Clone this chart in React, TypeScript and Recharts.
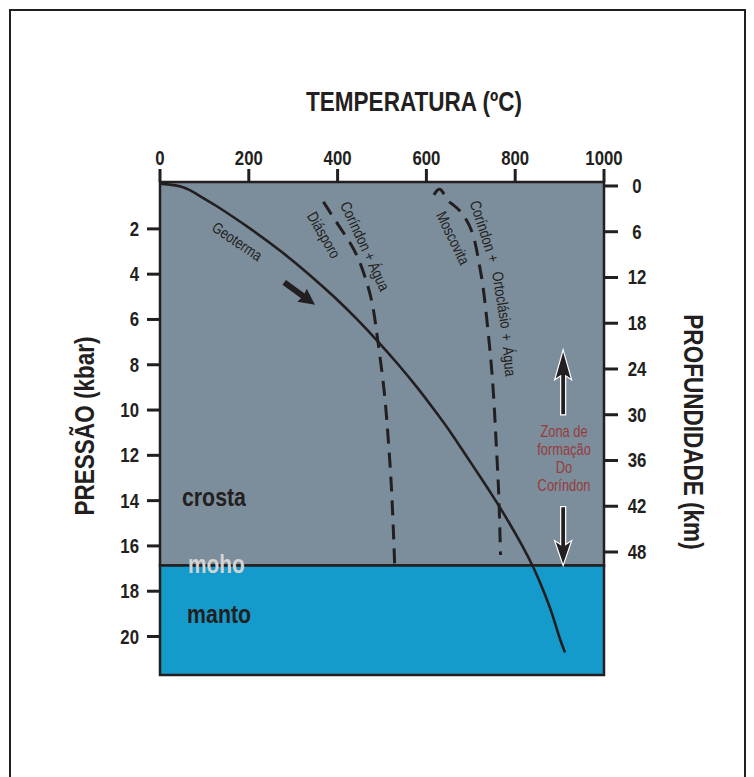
import React from "react";
import {
  LineChart,
  Line,
  XAxis,
  YAxis,
  ReferenceArea,
  ReferenceDot,
  Label,
} from "recharts";

const INK = "#231f20";
const FONT = "'Liberation Sans', Arial, sans-serif";
const CRUST = "#7c8d9b";
const MANTLE = "#149bcb";
const RED = "#963c3c";

// axes
const tempTicks = [0, 200, 400, 600, 800, 1000];
const pressureTicks = [2, 4, 6, 8, 10, 12, 14, 16, 18, 20];
const depthTicks = [0, 6, 12, 18, 24, 30, 36, 42, 48];
const P_TOP = -0.07;
const P_BOTTOM = 21.7;
const KM_TOP = -0.52;
const KM_BOTTOM = 64.13;
const MOHO = 16.87;

// geoterma (T em ºC, P em kbar)
const geoT = [0, 52, 90, 128, 204, 273, 335, 392, 444, 492, 537, 579, 618, 655, 689, 723, 756, 787, 816, 842, 864, 883, 899, 912];
const geoP = [0, 0.16, 0.55, 1, 2, 3, 4, 5, 6, 7, 8, 9, 10, 11, 12, 13, 14, 15, 16, 17, 18, 19, 20, 20.7];

// diásporo = coríndon + água
const diaT = [368, 394, 421, 444, 463, 479, 491, 504, 513, 520, 525, 529];
const diaP = [0.8, 1.6, 2.4, 3.2, 4.2, 5.4, 7, 9, 11, 13, 15, 17.06];

// moscovita = coríndon + ortoclásio + água
const mosT = [617, 631, 646, 661, 683, 705, 718, 727, 735, 742, 748, 753, 757, 761, 764, 767];
const mosP = [0.5, 0.26, 0.68, 0.95, 1.39, 2.27, 3.45, 4.48, 5.8, 7.13, 8.45, 9.92, 11.4, 12.87, 14.34, 16.4];

const toPoints = (ts: number[], ps: number[]) => ts.map((t, i) => ({ t, p: ps[i] }));

const geotherm = toPoints(geoT, geoP);
const diasporo = toPoints(diaT, diaP);
const moscovita = toPoints(mosT, mosP);

type NarrowProps = {
  x: number;
  y: number;
  angle?: number;
  size: number;
  bold?: boolean;
  fill?: string;
  anchor?: "start" | "middle" | "end";
  middle?: boolean;
  children: React.ReactNode;
};

// Arial Narrow look-alike: squeeze Liberation Sans horizontally
function Narrow({ x, y, angle = 0, size, bold = false, fill = INK, anchor = "middle", middle = false, children }: NarrowProps) {
  return (
    <text
      transform={`translate(${x},${y}) rotate(${angle}) scale(0.82,1)`}
      y={middle ? size * 0.35 : 0}
      fontFamily={FONT}
      fontSize={size}
      fontWeight={bold ? 700 : 400}
      fill={fill}
      textAnchor={anchor}
    >
      {children}
    </text>
  );
}

const TopTick = (props: any) => (
  <Narrow x={props.x} y={props.y - 2} size={20.5} bold>
    {props.payload.value}
  </Narrow>
);

const LeftTick = (props: any) => (
  <Narrow x={props.x - 6} y={props.y + 7} size={20.5} bold anchor="end">
    {props.payload.value}
  </Narrow>
);

const RightTick = (props: any) => (
  <Narrow x={props.x + 17} y={props.y + 7} size={20.5} bold>
    {props.payload.value}
  </Narrow>
);

// rótulos ao longo das curvas (centro em T/P, ângulo em graus)
const curveLabels = [
  { t: 174, p: 2.55, angle: 34, text: "Geoterma" },
  { t: 369, p: 2.27, angle: 60, text: "Diásporo" },
  { t: 462, p: 2.76, angle: 65, text: "Coríndon + Água" },
  { t: 660, p: 2.4, angle: 64, text: "Moscovita" },
  { t: 727, p: 1.87, angle: 72, text: "Coríndon" },
  { t: 750, p: 3.3, angle: 78, text: "+" },
  { t: 770, p: 5.14, angle: 81, text: "Ortoclásio" },
  { t: 781, p: 6.78, angle: 84, text: "+" },
  { t: 787, p: 7.86, angle: 85, text: "Água" },
];

const zoneLines = ["Zona de", "formação", "Do", "Coríndon"];

export default function App() {
  return (
    <div style={{ position: "absolute", left: 0, top: 0, width: 754, height: 777, overflow: "hidden", background: "#fff" }}>
      <div
        style={{
          position: "absolute",
          left: 9,
          top: 9,
          width: 737,
          height: 800,
          border: `2px solid ${INK}`,
          boxSizing: "border-box",
        }}
      />
      <div style={{ position: "absolute", left: 0, top: 0 }}>
        <LineChart width={754} height={777} margin={{ top: 152, right: 90, bottom: 102, left: 100 }}>
          <XAxis
            xAxisId="t"
            dataKey="t"
            type="number"
            orientation="top"
            domain={[0, 1000]}
            ticks={tempTicks}
            interval={0}
            height={30}
            allowDataOverflow
            axisLine={false}
            tickSize={13}
            tickLine={{ stroke: INK, strokeWidth: 3 }}
            tick={<TopTick />}
          >
            <Label content={() => <Narrow x={414} y={111} size={27.5} bold>TEMPERATURA (ºC)</Narrow>} />
          </XAxis>
          <YAxis
            yAxisId="p"
            type="number"
            reversed
            domain={[P_TOP, P_BOTTOM]}
            ticks={pressureTicks}
            interval={0}
            width={60}
            allowDataOverflow
            axisLine={false}
            tickSize={13}
            tickLine={{ stroke: INK, strokeWidth: 3 }}
            tick={<LeftTick />}
          >
            <Label content={() => <Narrow x={94} y={426} angle={-90} size={27.5} bold>PRESSÃO (kbar)</Narrow>} />
          </YAxis>
          <YAxis
            yAxisId="km"
            orientation="right"
            type="number"
            reversed
            domain={[KM_TOP, KM_BOTTOM]}
            ticks={depthTicks}
            interval={0}
            width={60}
            allowDataOverflow
            axisLine={false}
            tickSize={14}
            tickLine={{ stroke: INK, strokeWidth: 3 }}
            tick={<RightTick />}
          >
            <Label content={() => <Narrow x={684} y={432} angle={90} size={27.5} bold>PROFUNDIDADE (km)</Narrow>} />
          </YAxis>

          <ReferenceArea
            xAxisId="t"
            yAxisId="p"
            x1={0}
            x2={1000}
            y1={P_TOP}
            y2={MOHO}
            fill={CRUST}
            fillOpacity={1}
            stroke={INK}
            strokeWidth={2.5}
          />
          <ReferenceArea
            xAxisId="t"
            yAxisId="p"
            x1={0}
            x2={1000}
            y1={MOHO}
            y2={P_BOTTOM}
            fill={MANTLE}
            fillOpacity={1}
            stroke={INK}
            strokeWidth={2.5}
          />

          <Line
            xAxisId="t"
            yAxisId="p"
            data={diasporo}
            dataKey="p"
            type="natural"
            stroke={INK}
            strokeWidth={3}
            strokeDasharray="15 9"
            dot={false}
            isAnimationActive={false}
          />
          <Line
            xAxisId="t"
            yAxisId="p"
            data={moscovita}
            dataKey="p"
            type="natural"
            stroke={INK}
            strokeWidth={3}
            strokeDasharray="15 9"
            dot={false}
            isAnimationActive={false}
          />
          <Line
            xAxisId="t"
            yAxisId="p"
            data={geotherm}
            dataKey="p"
            type="natural"
            stroke={INK}
            strokeWidth={2.6}
            dot={false}
            isAnimationActive={false}
          />

          {curveLabels.map((l, i) => (
            <ReferenceDot
              key={i}
              xAxisId="t"
              yAxisId="p"
              x={l.t}
              y={l.p}
              shape={(s: any) => (
                <Narrow x={s.cx} y={s.cy} angle={l.angle} size={15.5} middle>
                  {l.text}
                </Narrow>
              )}
            />
          ))}

          {/* seta junto à geoterma */}
          <ReferenceDot
            xAxisId="t"
            yAxisId="p"
            x={349}
            y={5.35}
            shape={(s: any) => (
              <g transform={`translate(${s.cx},${s.cy}) rotate(36)`}>
                <polygon points="0,0 -16,-8 -15,-3 -38,-3 -38,3 -15,3 -16,8" fill={INK} />
              </g>
            )}
          />

          {/* zona de formação do coríndon */}
          <ReferenceDot
            xAxisId="t"
            yAxisId="p"
            x={908}
            y={7.34}
            shape={(s: any) => (
              <polygon
                transform={`translate(${s.cx},${s.cy})`}
                points="0,0 8.5,30 2.5,26 2.5,65 -2.5,65 -2.5,26 -8.5,30"
                fill={INK}
                stroke="#fff"
                strokeWidth={1.2}
              />
            )}
          />
          <ReferenceDot
            xAxisId="t"
            yAxisId="p"
            x={908}
            y={MOHO}
            shape={(s: any) => (
              <polygon
                transform={`translate(${s.cx},${s.cy})`}
                points="0,0 8.5,-25 2.5,-21 2.5,-59 -2.5,-59 -2.5,-21 -8.5,-25"
                fill={INK}
                stroke="#fff"
                strokeWidth={1.2}
              />
            )}
          />
          <ReferenceDot
            xAxisId="t"
            yAxisId="p"
            x={910}
            y={11.19}
            shape={(s: any) => (
              <g>
                {zoneLines.map((line, i) => (
                  <Narrow key={line} x={s.cx} y={s.cy + i * 18} size={15.7} fill={RED}>
                    {line}
                  </Narrow>
                ))}
              </g>
            )}
          />

          <ReferenceDot
            xAxisId="t"
            yAxisId="p"
            x={49.5}
            y={14.23}
            shape={(s: any) => (
              <Narrow x={s.cx} y={s.cy} size={26} bold anchor="start">crosta</Narrow>
            )}
          />
          <ReferenceDot
            xAxisId="t"
            yAxisId="p"
            x={63}
            y={17.19}
            shape={(s: any) => (
              <Narrow x={s.cx} y={s.cy} size={25.5} bold anchor="start" fill="#d3d3d3">moho</Narrow>
            )}
          />
          <ReferenceDot
            xAxisId="t"
            yAxisId="p"
            x={61}
            y={19.4}
            shape={(s: any) => (
              <Narrow x={s.cx} y={s.cy} size={26} bold anchor="start">manto</Narrow>
            )}
          />
        </LineChart>
      </div>
    </div>
  );
}
